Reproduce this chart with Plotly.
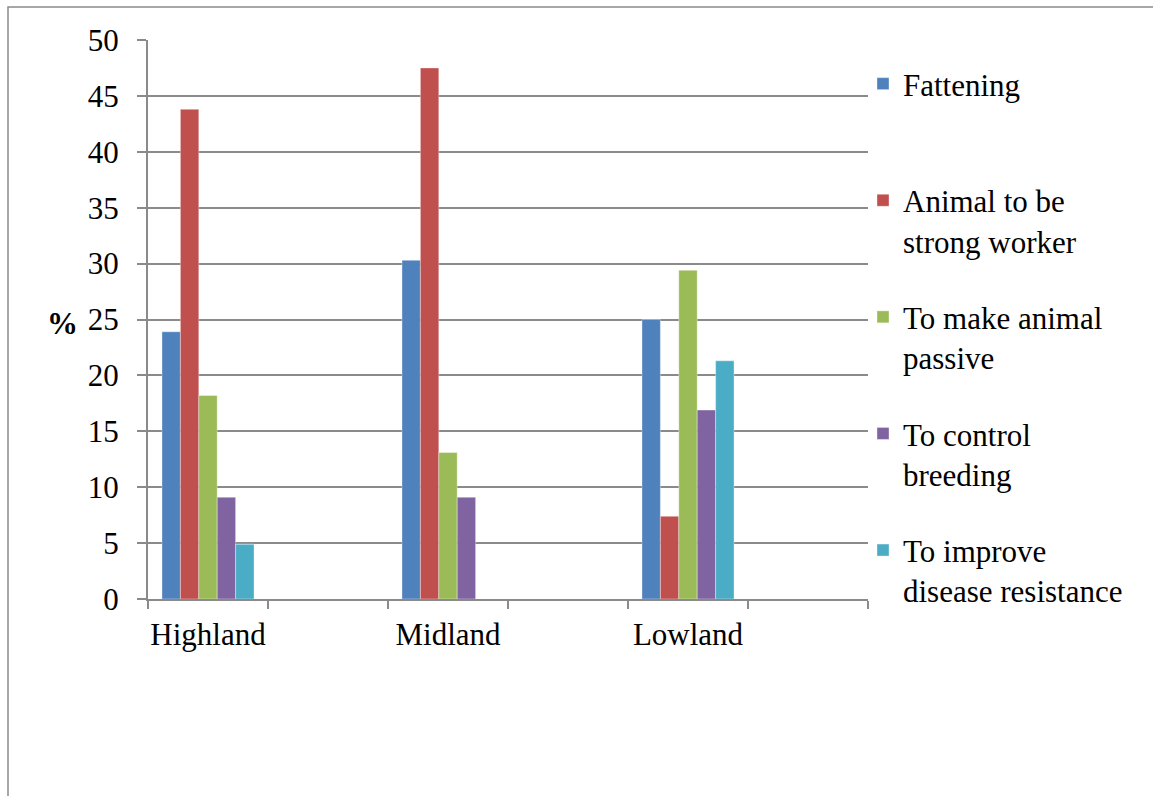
import plotly.graph_objects as go

# Categories on the x axis (blank slots sit between the regions)
regions = ["Highland", " ", "Midland", "  ", "Lowland", "   "]
shown_regions = ["Highland", "Midland", "Lowland"]

series_names = [
    "Fattening<br> ",
    "Animal to be<br>strong worker",
    "To make animal<br>passive",
    "To control<br>breeding",
    "To improve<br>disease resistance",
]
fattening = [23.9, 30.3, 25.0]
strong_worker = [43.8, 47.5, 7.4]
passive = [18.2, 13.1, 29.4]
control_breeding = [9.1, 9.1, 16.9]
disease_resistance = [4.9, 0.0, 21.3]
series_values = [fattening, strong_worker, passive, control_breeding, disease_resistance]
colors = ["#4F81BD", "#C0504D", "#9BBB59", "#8064A2", "#4BACC6"]

y_ticks = [0, 5, 10, 15, 20, 25, 30, 35, 40, 45, 50]

FONT = "Liberation Serif"
FS = 31
GRID = "#8a8a8a"

fig = go.Figure()
for i, (name, vals, col) in enumerate(zip(series_names, series_values, colors)):
    fig.add_trace(go.Bar(
        x=shown_regions, y=vals, name=name,
        legendgroup=f"g{i}",
        marker=dict(color=col, line=dict(color="rgba(255,255,255,0.6)", width=0.6)),
    ))

# plot-area geometry in pixels
L, R, T, B = 148, 868, 40, 599
W, H = R - L, B - T

def px_x(p):
    return (p - L) / W

def px_y(p):
    return (B - p) / H

fig.update_layout(
    width=1153, height=796,
    margin=dict(l=L, r=1153 - R, t=T, b=796 - B),
    paper_bgcolor="white", plot_bgcolor="white",
    font=dict(family=FONT, size=FS, color="black"),
    barmode="group", bargap=0.233, bargroupgap=0,
    showlegend=True,
    legend=dict(
        x=px_x(863), y=px_y(57), xanchor="left", yanchor="top",
        font=dict(family=FONT, size=FS, color="black"),
        valign="top", tracegroupgap=33, itemclick=False,
        bgcolor="rgba(0,0,0,0)", maxheight=720,
    ),
    xaxis=dict(
        type="category", categoryorder="array", categoryarray=regions,
        range=[-0.5, 5.5], tickson="boundaries", tickangle=0,
        ticks="outside", ticklen=8, tickwidth=2, tickcolor=GRID,
        showline=True, linecolor=GRID, linewidth=2,
        showgrid=False, zeroline=False, ticklabelstandoff=7,
        tickfont=dict(family=FONT, size=FS, color="black"),
    ),
    yaxis=dict(
        range=[0, 50], tickvals=y_ticks,
        ticks="outside", ticklen=9, tickwidth=2, tickcolor=GRID,
        showline=True, linecolor=GRID, linewidth=2,
        showgrid=True, gridcolor=GRID, gridwidth=2,
        zeroline=False, ticklabelstandoff=12,
        tickfont=dict(family=FONT, size=FS, color="black"),
    ),
    shapes=[
        dict(type="rect", xref="paper", yref="paper",
             x0=px_x(8), x1=px_x(1170), y0=px_y(810), y1=px_y(7),
             line=dict(color="#8a8a8a", width=1.5), fillcolor="rgba(0,0,0,0)",
             layer="below"),
    ],
    annotations=[
        dict(text="<b>%</b>", xref="paper", yref="paper",
             x=px_x(62), y=px_y(323), xanchor="center", yanchor="middle",
             showarrow=False,
             font=dict(family=FONT, size=FS, color="black")),
    ],
)

fig.write_html("out.html")
